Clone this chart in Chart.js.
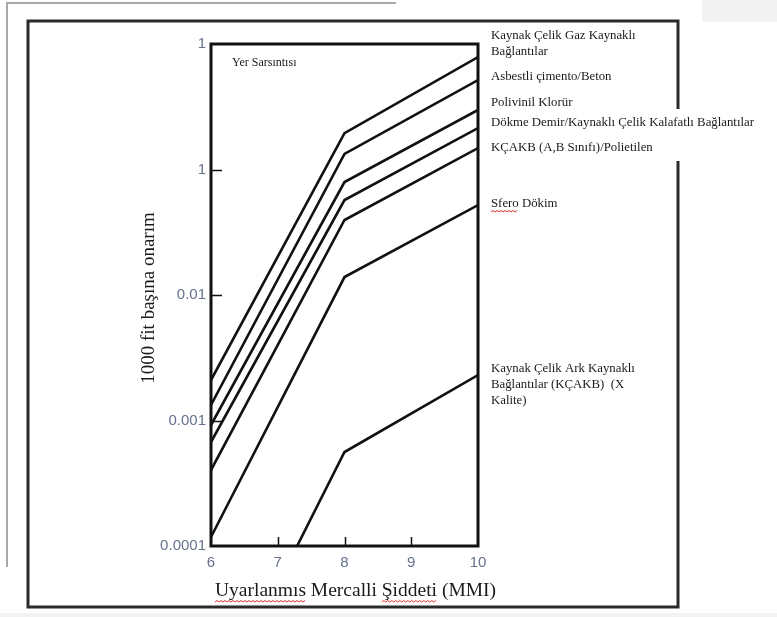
<!DOCTYPE html>
<html>
<head>
<meta charset="utf-8">
<script src="https://cdn.jsdelivr.net/npm/chart.js@4/dist/chart.umd.min.js"></script>
<style>
  html, body { margin: 0; padding: 0; background: #fff; }
  canvas { display: block; }
</style>
</head>
<body>
<canvas id="repairChart" width="777" height="617"></canvas>
<script>
// --- data ---
const mmiKnots = [6, 8, 10];
const gazKaynakli = [0.0021, 0.195, 0.787];
const asbestliBeton = [0.00133, 0.133, 0.516];
const polivinil = [0.00092, 0.0795, 0.298];
const dokmeDemir = [0.000674, 0.0571, 0.214];
const kcakbAB = [0.000403, 0.0396, 0.148];
const sferoDokum = [0.000118, 0.0139, 0.0521];
const arkKnotsX = [7.29, 8, 10];
const arkKaynakli = [0.0001, 0.000561, 0.0023];

const xTickValues = [6, 7, 8, 9, 10];
const xTickLabels = ['6', '7', '8', '9', '10'];
const yTickValues = [0.0001, 0.001, 0.01, 0.1, 1];
const yTickLabels = ['0.0001', '0.001', '0.01', '1', '1'];

const seriesNames = [
    'Kaynak Çelik Gaz Kaynaklı Bağlantılar',
    'Asbestli çimento/Beton',
    'Polivinil Klorür',
    'Dökme Demir/Kaynaklı Çelik Kalafatlı Bağlantılar',
    'KÇAKB (A,B Sınıfı)/Polietilen',
    'Sfero Dökim',
    'Kaynak Çelik Ark Kaynaklı Bağlantılar (KÇAKB) (X Kalite)'
];

// label layout on the right side of the plot
const rightLabels = [
    { lines: ['Kaynak Çelik Gaz Kaynaklı', 'Bağlantılar'], y: 36 },
    { lines: ['Asbestli çimento/Beton'], y: 77 },
    { lines: ['Polivinil Klorür'], y: 103 },
    { lines: ['Dökme Demir/Kaynaklı Çelik Kalafatlı Bağlantılar'], y: 123 },
    { lines: ['KÇAKB (A,B Sınıfı)/Polietilen'], y: 148 },
    { lines: ['Sfero Dökim'], y: 204, squiggle: 'Sfero' },
    { lines: ['Kaynak Çelik Ark Kaynaklı', 'Bağlantılar (KÇAKB)  (X', 'Kalite)'], y: 369 }
];

function toPoints(xs, ys) {
    return xs.map((x, i) => ({ x: x, y: ys[i] }));
}

const allSeries = [
    toPoints(mmiKnots, gazKaynakli),
    toPoints(mmiKnots, asbestliBeton),
    toPoints(mmiKnots, polivinil),
    toPoints(mmiKnots, dokmeDemir),
    toPoints(mmiKnots, kcakbAB),
    toPoints(mmiKnots, sferoDokum),
    toPoints(arkKnotsX, arkKaynakli)
];

const SERIF = '"Liberation Serif", "Times New Roman", serif';
const SANS = '"Liberation Sans", Arial, sans-serif';
const tickColor = '#66718c';

function squiggle(ctx, x0, x1, y) {
    ctx.save();
    ctx.strokeStyle = '#e0302a';
    ctx.lineWidth = 1;
    ctx.beginPath();
    let up = true;
    ctx.moveTo(x0, y);
    for (let x = x0 + 2; x <= x1; x += 2) {
        ctx.lineTo(x, up ? y - 1.5 : y);
        up = !up;
    }
    ctx.stroke();
    ctx.restore();
}

// page decoration behind the chart (document frame) + texts on top
const pageFrame = {
    id: 'pageFrame',
    beforeDraw(chart) {
        const c = chart.ctx;
        c.save();
        c.fillStyle = '#fff';
        c.fillRect(0, 0, chart.width, chart.height);
        c.fillStyle = '#f3f3f3';
        c.fillRect(702, 0, 75, 22);
        c.fillRect(0, 613, 777, 4);
        c.strokeStyle = '#a8a8a8';
        c.lineWidth = 2;
        c.beginPath();
        c.moveTo(7, 567);
        c.lineTo(7, 3);
        c.lineTo(396, 3);
        c.stroke();
        c.strokeStyle = '#2a2a2a';
        c.lineWidth = 3;
        c.strokeRect(28, 21, 650, 586);
        c.restore();
    },
    afterDraw(chart) {
        const c = chart.ctx;
        const area = chart.chartArea;
        const xs = chart.scales.x, ys = chart.scales.y;
        c.save();

        // inward tick marks
        c.strokeStyle = '#111';
        c.lineWidth = 1.5;
        c.beginPath();
        [0.001, 0.01, 0.1].forEach(v => {
            const py = Math.round(ys.getPixelForValue(v)) + 0.5;
            c.moveTo(area.left, py);
            c.lineTo(area.left + 11, py);
        });
        [7, 8, 9].forEach(v => {
            const px = Math.round(xs.getPixelForValue(v)) + 0.5;
            c.moveTo(px, area.bottom);
            c.lineTo(px, area.bottom - 9);
        });
        c.stroke();

        // plot frame
        c.strokeStyle = '#111';
        c.lineWidth = 3;
        c.strokeRect(area.left, area.top, area.right - area.left, area.bottom - area.top);

        // white patch where the long label crosses the page frame
        c.fillStyle = '#fff';
        c.fillRect(486, 109, 285, 52);

        // right-hand labels
        c.fillStyle = '#1a1a1a';
        c.font = '12.8px ' + SERIF;
        c.textBaseline = 'middle';
        c.textAlign = 'left';
        rightLabels.forEach(lab => {
            lab.lines.forEach((t, i) => c.fillText(t, 491, lab.y + i * 16));
            if (lab.squiggle) {
                const w = c.measureText(lab.squiggle).width;
                squiggle(c, 491, 491 + w, lab.y + 8);
            }
        });

        // note inside the plot
        c.font = '12px ' + SERIF;
        c.fillText('Yer Sarsıntısı', 232, 63);

        // y axis title
        c.save();
        c.translate(149, 298);
        c.rotate(-Math.PI / 2);
        c.textAlign = 'center';
        c.font = '19px ' + SERIF;
        c.fillText('1000 fit başına onarım', 0, 0);
        c.restore();

        // x axis title
        c.font = '19.5px ' + SERIF;
        c.textAlign = 'left';
        const part1 = 'Uyarlanmıs';
        const part2 = ' Mercalli ';
        const part3 = 'Şiddeti';
        const part4 = ' (MMI)';
        const x = 215;
        const ty = 591;
        c.fillText(part1 + part2 + part3 + part4, x, ty);
        const w1 = c.measureText(part1).width;
        const w2 = c.measureText(part2).width;
        const w3 = c.measureText(part3).width;
        squiggle(c, x, x + w1, ty + 11);
        squiggle(c, x + w1 + w2, x + w1 + w2 + w3, ty + 11);

        c.restore();
    }
};

const ctx = document.getElementById('repairChart').getContext('2d');

const repairChart = new Chart(ctx, {
    type: 'line',
    data: {
        datasets: allSeries.map((pts, i) => ({
            label: seriesNames[i],
            data: pts,
            borderColor: '#111',
            borderWidth: 2.6,
            pointRadius: 0,
            tension: 0,
            fill: false
        }))
    },
    options: {
        responsive: false,
        animation: false,
        devicePixelRatio: 1,
        layout: { padding: { left: 0, top: 44, right: 299, bottom: 0 } },
        plugins: {
            legend: { display: false },
            tooltip: { enabled: false }
        },
        scales: {
            x: {
                type: 'linear',
                min: 6,
                max: 10,
                afterFit: s => { s.height = 71; },
                afterBuildTicks: s => { s.ticks = xTickValues.map(v => ({ value: v })); },
                grid: { display: false, drawTicks: false },
                border: { display: false },
                ticks: {
                    padding: 8,
                    color: tickColor,
                    font: { family: SANS, size: 15 },
                    maxRotation: 0,
                    callback: (v, i) => xTickLabels[i]
                }
            },
            y: {
                type: 'logarithmic',
                min: 0.0001,
                max: 1,
                afterFit: s => { s.width = 211; },
                afterBuildTicks: s => { s.ticks = yTickValues.map(v => ({ value: v })); },
                grid: { display: false, drawTicks: false },
                border: { display: false },
                ticks: {
                    padding: 5,
                    color: tickColor,
                    font: { family: SANS, size: 15 },
                    autoSkip: false,
                    callback: (v, i) => yTickLabels[i]
                }
            }
        }
    },
    plugins: [pageFrame]
});
</script>
</body>
</html>
